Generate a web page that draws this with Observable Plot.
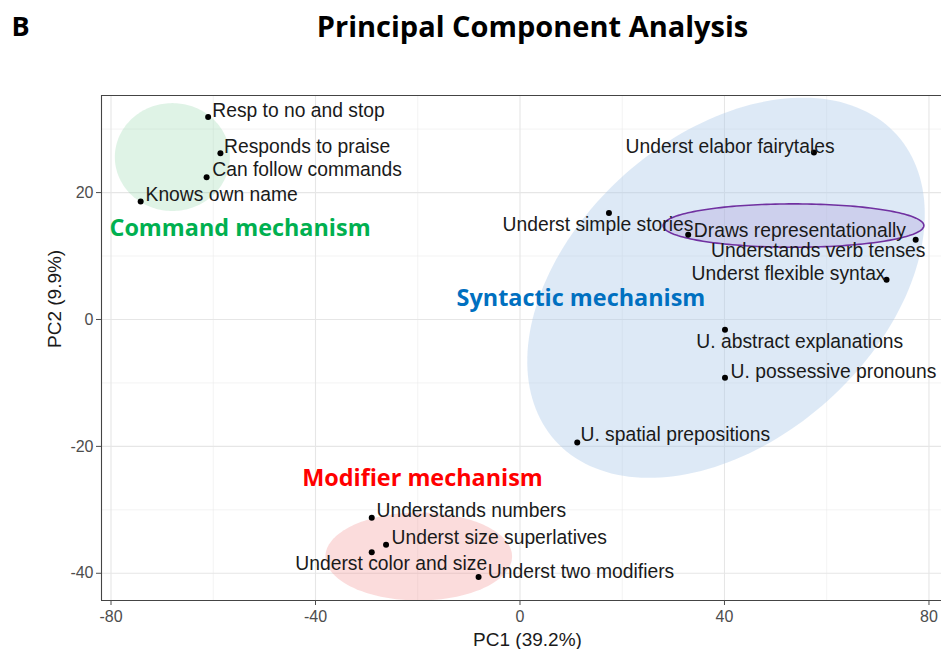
<!DOCTYPE html>
<html><head><meta charset="utf-8">
<script src="https://cdn.jsdelivr.net/npm/d3@7"></script>
<script src="https://cdn.jsdelivr.net/npm/@observablehq/plot@0.6"></script>
<style>body{margin:0;background:#fff;}</style>
</head><body><div id="chart"></div>
<script>
// ---- data ----
const items = ["Resp to no and stop","Responds to praise","Can follow commands","Knows own name",
  "Underst elabor fairytales","Underst simple stories","Draws representationally","Understands verb tenses",
  "Underst flexible syntax","U. abstract explanations","U. possessive pronouns","U. spatial prepositions",
  "Understands numbers","Underst size superlatives","Underst color and size","Underst two modifiers"];
const pc1 = [-61.0,-58.6,-61.3,-74.2, 57.5,17.4,32.9,77.4, 71.7,40.1,40.1,11.2, -29.0,-26.2,-29.0,-8.1];
const pc2 = [31.9,26.2,22.4,18.6, 26.3,16.8,13.35,12.56, 6.25,-1.6,-9.2,-19.4, -31.25,-35.5,-36.7,-40.6];
// repelled label positions (data units) and their anchoring
const labelPC1 = [-60.2,-57.9,-60.2,-73.25, 41.1,33.9,34.0,79.3, 71.5,34.5,41.2,11.83, -28.07,-25.13,-6.42,-6.3];
const labelPC2 = [32.83,27.27,23.59,19.70, 27.27,14.92,14.03,10.77, 7.2,-3.57,-8.2,-18.17, -30.1,-34.4,-38.5,-39.83];
const labelSide = ["start","start","start","start","middle","end","start","end","end","start","start","start","start","start","end","start"];

// mechanism annotations
const mechNames = ["Command mechanism","Syntactic mechanism","Modifier mechanism"];
const mechPC1 = [-80.3,-12.4,-42.6];
const mechPC2 = [14.3,3.3,-25.1];

// ellipse parameters: centre + two conjugate semi-axis vectors (data units)
const ellNames = ["Command","Syntactic","Modifier","Draws"];
const ellCx = [-68.0, 40.3, -19.8, 53.5];
const ellCy = [25.6, 5.0, -37.35, 14.8];
const ellUx = [11.25, 33.4, 18.25, 25.5];
const ellUy = [0, 24.1, 0, 0];
const ellVx = [0, 19.9, 0, 0];
const ellVy = [8.5, -17.8, 6.93, 3.42];

const xTicks = [-80,-40,0,40,80];
const yTicks = [-40,-20,0,20];
const xMinor = [-60,-20,20,60];
const yMinor = [-30,-10,10,30];

// ---- build tables ----
const pts = items.map((name,i)=>({name, x:pc1[i], y:pc2[i], lx:labelPC1[i], ly:labelPC2[i], side:labelSide[i]}));
const mechs = mechNames.map((name,i)=>({name, x:mechPC1[i], y:mechPC2[i]}));
function ellipse(i){
  const out=[];
  for(let k=0;k<=180;k++){
    const t=2*Math.PI*k/180;
    out.push({x: ellCx[i]+ellUx[i]*Math.cos(t)+ellVx[i]*Math.sin(t),
              y: ellCy[i]+ellUy[i]*Math.cos(t)+ellVy[i]*Math.sin(t)});
  }
  return out;
}
const mechColor = {"Command mechanism":"#00b050","Syntactic mechanism":"#0070c0","Modifier mechanism":"#ff0000"};
const ellStyle = {
  Command:{fill:"#7fd19c", fillOpacity:0.25, stroke:"none"},
  Syntactic:{fill:"#a9c8e8", fillOpacity:0.4, stroke:"none"},
  Modifier:{fill:"#f08080", fillOpacity:0.28, stroke:"none"},
  Draws:{fill:"#a898d8", fillOpacity:0.3, stroke:"#7030a0", strokeWidth:1.6}
};

const xDom=[-81.86, 82.45], yDom=[-44.29, 35.30];
const labelFont = "'Liberation Sans', Arial, sans-serif";
const headFont = "'Open Sans', sans-serif";

const plot = Plot.plot({
  width:941, height:649,
  marginTop:95, marginBottom:49, marginLeft:101, marginRight:0,
  x:{domain:xDom}, y:{domain:yDom},
  style:{fontFamily:labelFont, background:"#fff"},
  marks:[
    Plot.ruleX(xMinor,{stroke:"#ebebeb", strokeWidth:0.6}),
    Plot.ruleY(yMinor,{stroke:"#ebebeb", strokeWidth:0.6}),
    Plot.ruleX(xTicks,{stroke:"#e6e6e6", strokeWidth:1.1}),
    Plot.ruleY(yTicks,{stroke:"#e6e6e6", strokeWidth:1.1}),
    ...ellNames.map((n,i)=>Plot.line(ellipse(i),{x:"x",y:"y",curve:"linear-closed",clip:true,...ellStyle[n]})),
    Plot.ruleX([xDom[0]],{stroke:"#444", strokeWidth:1.1}),
    Plot.ruleY([yDom[0], yDom[1]],{stroke:"#444", strokeWidth:1.1}),
    Plot.axisX({ticks:xTicks, tickFormat:d=>String(d), tickSize:5, tickPadding:5, fontSize:16, color:"#4d4d4d", label:null}),
    Plot.axisY({ticks:yTicks, tickFormat:d=>String(d), tickSize:5, tickPadding:3, fontSize:16, color:"#4d4d4d", label:null}),
    Plot.dot(pts,{x:"x", y:"y", r:3, fill:"#000", stroke:"none"}),
    ...["start","middle","end"].map(side=>Plot.text(pts.filter(d=>d.side===side),
      {x:"lx", y:"ly", text:"name", textAnchor:side, lineAnchor:"middle", fontSize:19.3, fill:"#1a1a1a", fontFamily:labelFont})),
    Plot.text(mechs,{x:"x", y:"y", text:"name", textAnchor:"start", lineAnchor:"middle", fill:d=>mechColor[d.name],
      fontSize:23.4, fontWeight:"bold", fontFamily:headFont}),
    Plot.text(["PC1 (39.2%)"],{frameAnchor:"bottom", dx:6, dy:39, text:d=>d, fontSize:19, fill:"#1a1a1a", lineAnchor:"middle"}),
    Plot.text(["PC2 (9.9%)"],{frameAnchor:"left", dx:-47, dy:0, rotate:-90, text:d=>d, fontSize:19, fill:"#1a1a1a", lineAnchor:"middle"}),
    Plot.text(["Principal Component Analysis"],{frameAnchor:"top", dx:11, dy:-68, text:d=>d, fontSize:29, fontWeight:"bold", fill:"#000", lineAnchor:"middle", fontFamily:headFont}),
    Plot.text(["B"],{frameAnchor:"top-left", dx:-90, dy:-68, text:d=>d, textAnchor:"start", fontSize:27, fontWeight:"bold", fill:"#000", lineAnchor:"middle", fontFamily:headFont})
  ]
});
document.getElementById("chart").appendChild(plot);
</script></body></html>
